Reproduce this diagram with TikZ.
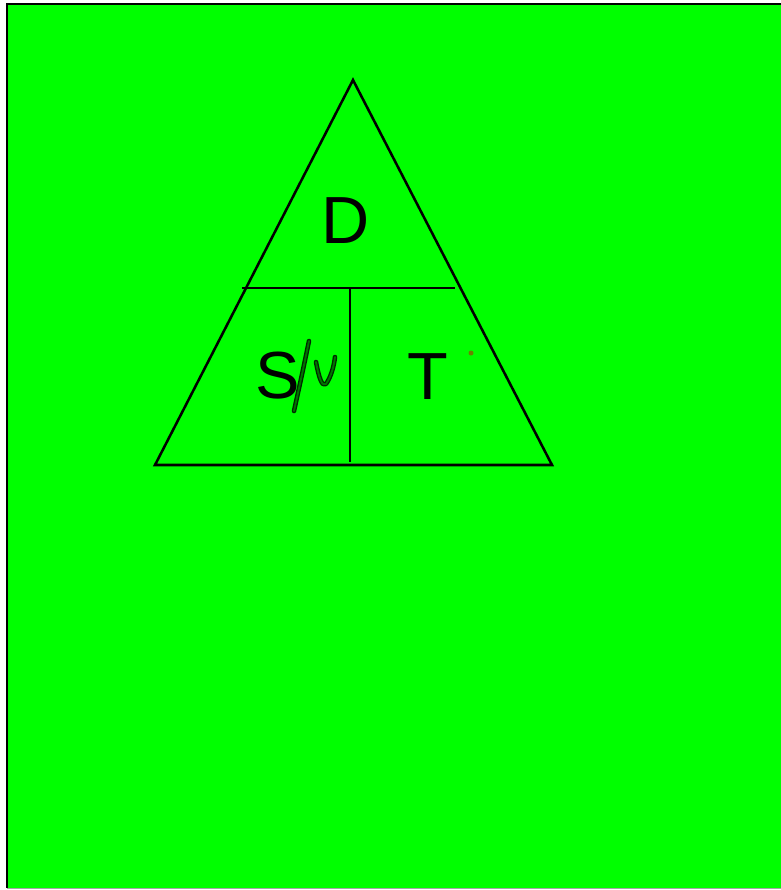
\documentclass[tikz,border=0pt]{standalone}
\usepackage{fontspec}
\setmainfont{Liberation Sans}
\usetikzlibrary{positioning}

\begin{document}
\begin{tikzpicture}[
  x=0.75pt, y=-0.75pt,
  edge/.style={draw, line width=1.9pt, line join=miter},
  letter/.style={font=\fontsize{50}{50}\selectfont, inner sep=0pt},
  scribble/.style={draw=green!15!black, line width=3.4pt, line cap=round, line join=round,
    postaction={draw=green!45!black, line width=1.4pt}}
]
\useasboundingbox (0,0) rectangle (781,890);
% page
\fill[white] (0,0) rectangle (781,890);
\fill[green] (7,4) rectangle (781,888);
\draw[line width=2pt] (7,888) -- (7,4) -- (781,4);
\draw[gray!70, line width=1pt] (7,888.5) -- (781,888.5);
% triangle
\draw[edge] (353,80) -- (552,465) -- (155,465) -- cycle;
\draw[edge] (242,288) -- (455,288);
\draw[edge] (350,288) -- (350,462);
% labels
\node[letter] (d) at (346,221) {D};
\node[letter] (s) at (278,376) {S};
\node[letter] (t) at (428,377) {T};
% hand-written correction
\draw[scribble] (309,341) .. controls (303,370) .. (294,411);
\draw[scribble] (316,362) .. controls (319,378) and (322,387) .. (326,384)
  .. controls (331,377) and (334,366) .. (335,357);
% stray dot
\fill[orange!60!black, opacity=0.7] (471,353) circle (2.5);
\end{tikzpicture}
\end{document}
